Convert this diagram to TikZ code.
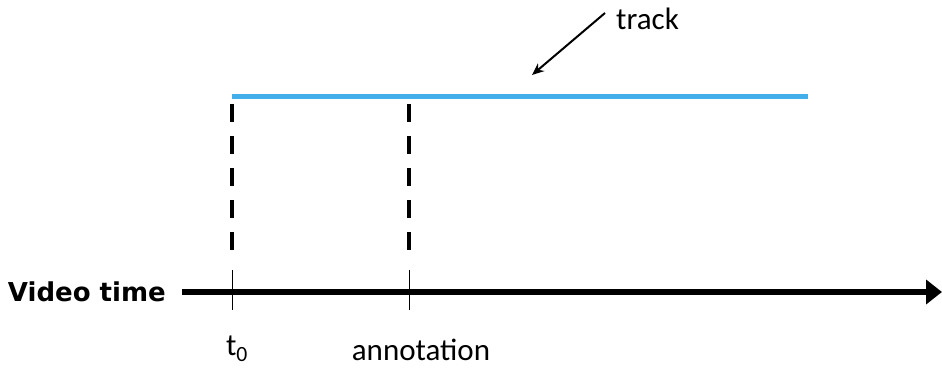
\documentclass[tikz,border=0pt]{standalone}
\usepackage{fontspec}
\setmainfont{Carlito}
\newfontfamily\vtfont{DejaVu Sans}
\usetikzlibrary{arrows.meta}
\definecolor{trackblue}{RGB}{66,174,234}
\tikzset{
  axisline/.style={line width=6pt,-{Triangle[length=16pt,width=24pt]}},
  tickline/.style={line width=1pt},
  dashline/.style={line width=4pt,dash pattern=on 18pt off 14pt},
  trackline/.style={line width=5pt,trackblue},
  pointer/.style={line width=2pt,-{Stealth[length=12pt,width=10pt]}},
  lbl/.style={font=\fontsize{31}{34}\selectfont,inner sep=0pt}
}
\begin{document}
\begin{tikzpicture}[x=1pt,y=-1pt]
\useasboundingbox (0,0) rectangle (942,367);
% axis
\node[inner sep=0pt,anchor=east,font=\vtfont\bfseries\fontsize{26}{29}\selectfont] (vt) at (166,292) {Video time};
\coordinate (axs) at (182,292);
\coordinate (axe) at (942,292);
\draw[axisline] (axs) -- (axe);
% ticks
\coordinate (t0top) at (232,270);
\coordinate (t0bot) at (232,310);
\coordinate (antop) at (409,270);
\coordinate (anbot) at (409,310);
\draw[tickline] (t0top) -- (t0bot);
\draw[tickline] (antop) -- (anbot);
% track
\coordinate (trs) at (232,96);
\coordinate (tre) at (808,96);
\draw[trackline] (trs) -- (tre);
% dashed lines
\coordinate (d1s) at (232,104);
\coordinate (d1e) at (232,250);
\coordinate (d2s) at (409,104);
\coordinate (d2e) at (409,250);
\draw[dashline] (d1s) -- (d1e);
\draw[dashline] (d2s) -- (d2e);
% labels
\node[lbl] (t0) at (237,349) {t\textsubscript{0}};
\node[lbl] (ann) at (421,350) {annotation};
\node[lbl,anchor=west] (track) at (616,19) {track};
\coordinate (ps) at (605,13);
\coordinate (pe) at (532,75);
\draw[pointer] (ps) -- (pe);
\end{tikzpicture}
\end{document}
